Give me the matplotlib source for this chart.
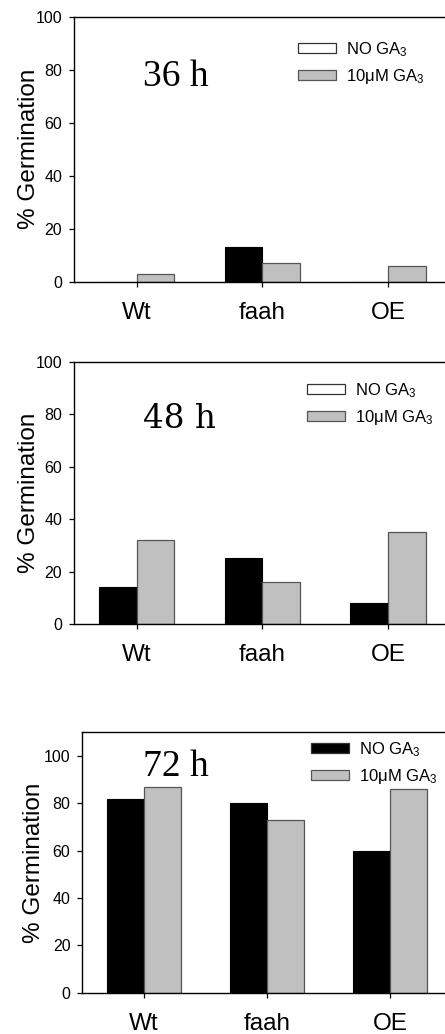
import matplotlib
matplotlib.use("Agg")
import matplotlib.pyplot as plt
from matplotlib.patches import Patch, Rectangle
import numpy as np

plt.rcParams["font.family"] = ["Liberation Sans", "DejaVu Sans"]
plt.rcParams["mathtext.fontset"] = "custom"
plt.rcParams["mathtext.rm"] = "Liberation Sans"
plt.rcParams["mathtext.it"] = "Liberation Sans:italic"

# Genotypes and germination percentages
genotypes = ["Wt", "faah", "OE"]
panel_titles = ["36 h", "48 h", "72 h"]
no_ga_36 = [0, 13, 0]
ga_36 = [3, 7, 6]
no_ga_48 = [14, 25, 8]
ga_48 = [32, 16, 35]
no_ga_72 = [82, 80, 60]
ga_72 = [87, 73, 86]
series_labels = ["NO GA$_3$", "10\u03bcM GA$_3$"]

BLACK = "#000000"
GRAY = "#c0c0c0"
EDGE_GRAY = "#555555"

W, H = 445, 1034
fig = plt.figure(figsize=(W / 100, H / 100), dpi=100)


def frac_rect(left, right, top, bottom):
    return [left / W, 1 - bottom / H, (right - left) / W, (bottom - top) / H]


panels = [
    dict(rect=frac_rect(74, 450.75, 16.7, 281.7), ylim=(0, 100),
         no_ga=no_ga_36, ga=ga_36, title=panel_titles[0],
         title_font="Liberation Serif", title_size=27, title_pos=(0.183, 0.7385),
         legend_anchor=(298, 40), legend_first="#ffffff", ylabel_pad=-3),
    dict(rect=frac_rect(74, 450.75, 361.7, 624), ylim=(0, 100),
         no_ga=no_ga_48, ga=ga_48, title=panel_titles[1],
         title_font="DejaVu Serif", title_size=23.5, title_pos=(0.183, 0.746),
         legend_anchor=(307, 381), legend_first="#ffffff", ylabel_pad=-3),
    dict(rect=frac_rect(82.3, 451.5, 732.3, 992.7), ylim=(0, 110),
         no_ga=no_ga_72, ga=ga_72, title=panel_titles[2],
         title_font="Liberation Serif", title_size=27, title_pos=(0.164, 0.832),
         legend_anchor=(310.7, 740), legend_first=BLACK, ylabel_pad=-1),
]

x = np.arange(len(genotypes))
bw = 0.30

for p in panels:
    ax = fig.add_axes(p["rect"])
    ax.bar(x - bw / 2, p["no_ga"], width=bw, color=BLACK, edgecolor=BLACK,
           linewidth=0.8)
    ax.bar(x + bw / 2, p["ga"], width=bw, color=GRAY, edgecolor=EDGE_GRAY,
           linewidth=0.9)
    ax.set_xlim(-0.5, 2.5)
    ax.set_ylim(*p["ylim"])
    ax.set_yticks([0, 20, 40, 60, 80, 100])
    ax.set_xticks(x)
    ax.set_xticklabels(genotypes, fontsize=17.5)
    ax.tick_params(axis="x", length=3.5, width=0.9, pad=11)
    ax.tick_params(axis="y", length=3.5, width=0.9, pad=5, labelsize=11.5)
    for s in ax.spines.values():
        s.set_linewidth(1.0)
    ax.set_ylabel("% Germination", fontsize=17.5, labelpad=p["ylabel_pad"])

    ax.text(p["title_pos"][0], p["title_pos"][1], p["title"],
            transform=ax.transAxes, ha="left", va="baseline",
            fontsize=p["title_size"], family=p["title_font"])

    handles = [
        Patch(facecolor=p["legend_first"], edgecolor="#333333", linewidth=0.9),
        Patch(facecolor=GRAY, edgecolor=EDGE_GRAY, linewidth=0.9),
    ]
    lx, ly = p["legend_anchor"]
    ax.legend(handles, series_labels, loc="upper left",
              bbox_to_anchor=(lx / W, 1 - ly / H),
              bbox_transform=fig.transFigure, frameon=False, fontsize=12,
              handlelength=2.3, handleheight=0.5, handletextpad=0.6,
              labelspacing=0.5, borderpad=0, borderaxespad=0)

# The first panel's category labels are trimmed along its lower edge
fig.patches.append(Rectangle((0, 1 - 352 / H), 1, 33 / H,
                             transform=fig.transFigure, facecolor="white",
                             edgecolor="none", zorder=10))

fig.savefig("out.png", dpi=100)
